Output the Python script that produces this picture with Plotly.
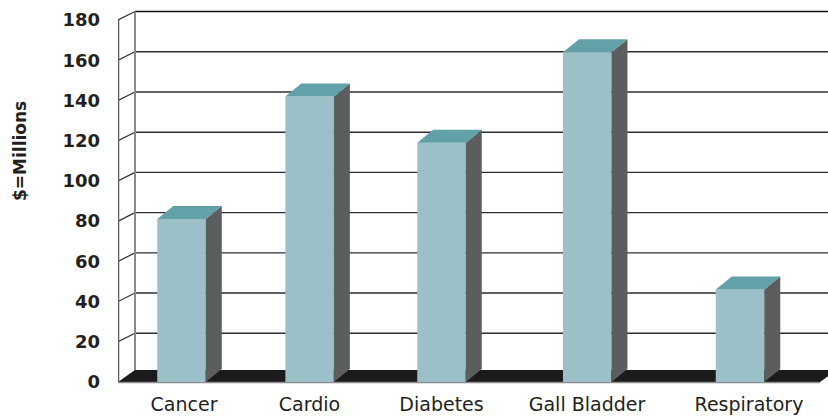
import plotly.graph_objects as go

# ---------------- data ----------------
categories = ["Cancer", "Cardio", "Diabetes", "Gall Bladder", "Respiratory"]
values = [81, 142, 119, 164, 46]
y_ticks = [0, 20, 40, 60, 80, 100, 120, 140, 160, 180]

# ---------------- layout constants (pixels) ----------------
W, H = 828, 416
ML, MT, MB = 118, 0, 32
PLOT_W = W - ML
PLOT_H = H - MT - MB
K = 2.011                      # px per value unit
ZERO_PX = 382                  # y pixel of value 0 (front plane)
ymin = -(MT + PLOT_H - ZERO_PX) / K
ymax = (ZERO_PX - MT) / K

centres = [63.5, 191.6, 323.5, 469.2, 622.0]   # bar x positions (px from left wall)
label_pos = [66.0, 191.5, 323.5, 469.0, 631.0]  # category label x positions
BAR_W = 48.5
BAR_DX, BAR_DY = 16, 13 / K     # bar depth offset
WALL_DX, WALL_DY = 17, 8.5 / K  # wall depth offset
FLOOR_DY = 12 / K
FLOOR_END = 702

FRONT = "#9bc0c7"
TOP = "#63a1a9"
SIDE = "#5b5d5f"
TXT = "#231f20"
FONT = "DejaVu Sans"

fig = go.Figure()

# front faces of the bars
fig.add_trace(go.Bar(
    x=centres, y=values, width=BAR_W,
    marker=dict(color=FRONT, line=dict(width=0)),
    hoverinfo="skip", showlegend=False,
))

# side and top faces derived from the values
sx, sy, tx, ty = [], [], [], []
for c, v in zip(centres, values):
    x0, x1 = c - BAR_W / 2, c + BAR_W / 2
    sx += [x1, x1 + BAR_DX, x1 + BAR_DX, x1, x1, None]
    sy += [0, BAR_DY, v + BAR_DY, v, 0, None]
    tx += [x0, x1, x1 + BAR_DX, x0 + BAR_DX, x0, None]
    ty += [v, v, v + BAR_DY, v + BAR_DY, v, None]
fig.add_trace(go.Scatter(x=sx, y=sy, mode="lines", fill="toself", fillcolor=SIDE,
                         line=dict(width=0, color=SIDE), hoverinfo="skip", showlegend=False))
fig.add_trace(go.Scatter(x=tx, y=ty, mode="lines", fill="toself", fillcolor=TOP,
                         line=dict(width=0, color=TOP), hoverinfo="skip", showlegend=False))

shapes = []
top_v = y_ticks[-1]
# back wall gridlines
for v in y_ticks[1:]:
    shapes.append(dict(type="line", xref="x", yref="y", layer="below",
                       x0=WALL_DX, x1=PLOT_W + 20, y0=v + WALL_DY, y1=v + WALL_DY,
                       line=dict(color="#111111" if v == top_v else "#2e2e2e", width=1.4)))
# side wall gridlines
for v in y_ticks[1:]:
    shapes.append(dict(type="line", xref="x", yref="y", layer="below",
                       x0=0, x1=WALL_DX, y0=v, y1=v + WALL_DY,
                       line=dict(color="#2e2e2e", width=1.2)))
# back wall left edge
shapes.append(dict(type="line", xref="x", yref="y", layer="below",
                   x0=WALL_DX, x1=WALL_DX, y0=FLOOR_DY, y1=top_v + WALL_DY,
                   line=dict(color="#8a8a8a", width=2)))
# side wall front edge
shapes.append(dict(type="line", xref="x", yref="y", layer="below",
                   x0=0.6, x1=0.6, y0=0, y1=top_v,
                   line=dict(color="#5a5a5a", width=1.3)))
# floor
shapes.append(dict(type="path", xref="x", yref="y", layer="below",
                   path=f"M 0,0 L {FLOOR_END},0 L {FLOOR_END + WALL_DX},{FLOOR_DY} L {WALL_DX},{FLOOR_DY} Z",
                   fillcolor="#1b1b1b", line=dict(width=0)))
shapes.append(dict(type="line", xref="x", yref="y", layer="below",
                   x0=0, x1=FLOOR_END, y0=-0.3, y1=-0.3,
                   line=dict(color="#8c8c8c", width=1.5)))

fig.update_layout(
    width=W, height=H,
    margin=dict(l=ML, r=0, t=MT, b=MB, pad=0),
    paper_bgcolor="white", plot_bgcolor="white",
    shapes=shapes,
    showlegend=False,
    xaxis=dict(range=[0, PLOT_W], tickvals=label_pos, ticktext=categories,
               showgrid=False, zeroline=False, showline=False, ticks="",
               ticklabelstandoff=7,
               tickfont=dict(family=FONT, size=19, color=TXT), fixedrange=True),
    yaxis=dict(range=[ymin, ymax], tickvals=y_ticks,
               ticktext=[f"<b>{t}</b>" for t in y_ticks],
               showgrid=False, zeroline=False, showline=False, ticks="",
               ticklabelstandoff=17,
               tickfont=dict(family=FONT, size=18, color=TXT), fixedrange=True),
    annotations=[dict(text="<b>$=Millions</b>", textangle=-90, showarrow=False,
                      xref="paper", yref="paper",
                      x=(20 - ML) / PLOT_W, y=(MT + PLOT_H - 151) / PLOT_H,
                      xanchor="center", yanchor="middle",
                      font=dict(family=FONT, size=17, color=TXT))],
)

fig.write_html("out.html")
